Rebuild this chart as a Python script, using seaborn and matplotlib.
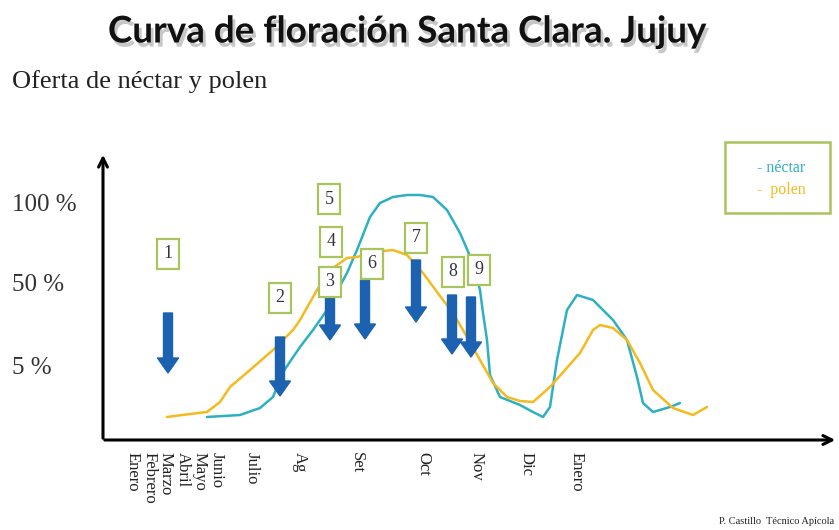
import matplotlib
matplotlib.use('Agg')
import matplotlib.pyplot as plt
import matplotlib.patheffects as pe
from matplotlib.patches import Rectangle
import pandas as pd
import seaborn as sns

sns.set_style('white')
plt.rcParams['font.family'] = ['Liberation Serif', 'DejaVu Serif']

# x positions of the months along the axis, y = height above the x axis
months = ['Enero', 'Febrero', 'Marzo', 'Abril', 'Mayo', 'Junio', 'Julio',
          'Ag', 'Set', 'Oct', 'Nov', 'Dic', 'Enero']
month_x = [133, 150, 166, 183, 200, 217, 252, 300, 357, 423, 477, 527, 577]

level_labels = ['5 %', '50 %', '100 %']
level_y = [72, 155, 235]

nectar_x = [207, 240, 260, 273, 283, 300, 313, 327, 347, 357, 370, 380, 393, 407,
            420, 433, 447, 460, 473, 480, 483, 487, 490, 500, 520, 533, 543, 550,
            557, 567, 577, 593, 613, 627, 637, 643, 653, 670, 680]
nectar_y = [23, 25, 32, 43, 68, 93, 110, 130, 167, 190, 223, 237, 243, 245,
            245, 243, 230, 207, 177, 150, 127, 100, 65, 43, 35, 28, 23, 33,
            80, 130, 145, 140, 120, 100, 63, 37, 28, 33, 37]

polen_x = [167, 190, 207, 220, 230, 250, 273, 293, 300, 317, 330, 347, 357, 373,
           393, 407, 423, 440, 453, 467, 480, 493, 507, 520, 533, 550, 565, 580,
           593, 600, 613, 627, 640, 653, 673, 693, 707]
polen_y = [23, 26, 28, 38, 53, 70, 90, 110, 120, 150, 170, 182, 183, 188,
           190, 185, 167, 144, 127, 103, 80, 57, 43, 39, 38, 53, 70, 87,
           110, 115, 112, 100, 77, 50, 32, 25, 33]

box_labels = ['1', '2', '3', '4', '5', '6', '7', '8', '9']
box_x = [168, 280, 330, 331, 329, 372, 416, 453, 479]
box_y = [186, 142, 158, 198, 241, 176, 202, 168, 170]

arrow_x = [168, 280, 330, 365, 416, 452, 471]
arrow_top = [127, 103, 142, 160, 180, 145, 143]
arrow_tip = [67, 44, 100, 101, 118, 86, 83]

nectar_color = '#2DB1C2'
polen_color = '#F4BA1E'
arrow_color = '#1D62B0'
box_color = '#A9C45C'

df = pd.concat([
    pd.DataFrame({'x': nectar_x, 'y': nectar_y, 'serie': 'néctar'}),
    pd.DataFrame({'x': polen_x, 'y': polen_y, 'serie': 'polen'}),
])

fig = plt.figure(figsize=(8.39, 5.30), dpi=100)
ax = fig.add_axes([103 / 839, 90 / 530, 732 / 839, 285 / 530])
ax.set_xlim(103, 835)
ax.set_ylim(0, 285)

sns.lineplot(data=df, x='x', y='y', hue='serie', units='serie', estimator=None,
             palette={'néctar': nectar_color, 'polen': polen_color},
             linewidth=1.8, legend=False, ax=ax, zorder=2)

for xa, yt, yb in zip(arrow_x, arrow_top, arrow_tip):
    ax.arrow(xa, yt, 0, yb - yt, width=9, head_width=21, head_length=15,
             length_includes_head=True, color=arrow_color, zorder=3)

for lab, bx, by in zip(box_labels, box_x, box_y):
    ax.text(bx, by, lab, ha='center', va='center', fontsize=13, color='#333344',
            zorder=4,
            bbox=dict(boxstyle='square,pad=0.35', fc='white', ec=box_color, lw=1.6))

# axes drawn as arrows
for s in ax.spines.values():
    s.set_visible(False)
ax.annotate('', xy=(838, 0), xytext=(102, 0), annotation_clip=False,
            arrowprops=dict(arrowstyle='->', lw=2.2, color='black', mutation_scale=16))
ax.annotate('', xy=(103, 288), xytext=(103, -1), annotation_clip=False,
            arrowprops=dict(arrowstyle='->', lw=2.2, color='black', mutation_scale=16))

ax.set_xticks(month_x, months, rotation=-90, fontsize=12, color='#222222')
ax.tick_params(axis='x', length=0, pad=9)
ax.set_yticks([])
ax.set_xlabel('')
ax.set_ylabel('')

for lab, ly in zip(level_labels, level_y):
    ax.text(12, ly, lab, ha='left', va='center', fontsize=18, color='#333333')

# legend box
ax.add_patch(Rectangle((725, 227), 105, 71, fill=False, ec=box_color, lw=1.8,
                       clip_on=False))
ax.text(757, 272, '- néctar', color=nectar_color, fontsize=11.5, va='center')
ax.text(757, 250, '-  polen', color=polen_color, fontsize=11.5, va='center')

fig.text(406 / 839, 1 - 32 / 530, 'Curva de floración Santa Clara. Jujuy',
         ha='center', va='center', fontsize=26.5, fontweight='bold',
         family=['Lato', 'DejaVu Sans'], color='#111111',
         path_effects=[pe.SimplePatchShadow(offset=(2, -3), shadow_rgbFace='0.45',
                                            alpha=0.4), pe.Normal()])
fig.text(12 / 839, 1 - 82 / 530, 'Oferta de néctar y polen', ha='left',
         va='center', fontsize=19, color='#222222')
fig.text(834 / 839, 1 - 521 / 530, 'P. Castillo  Técnico Apícola', ha='right',
         va='center', fontsize=7.5, color='#222222')

fig.savefig('out.png', dpi=100)
